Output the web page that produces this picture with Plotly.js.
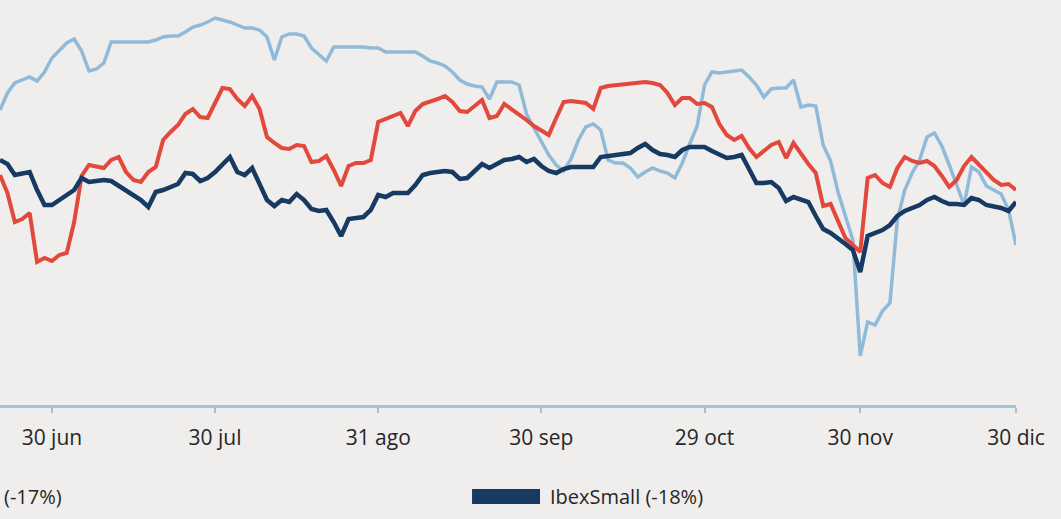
<!DOCTYPE html>
<html>
<head>
<meta charset="utf-8">
<script src="https://cdn.plot.ly/plotly-3.0.1.min.js"></script>
<style>
  html, body { margin: 0; padding: 0; background: #efeeec; }
  #chart { width: 1061px; height: 519px; }
</style>
</head>
<body>
<div id="chart"></div>
<script>
// Trading-day index (index 0 = first session shown)
const tickDays   = [7, 29, 51, 73, 95, 116, 137];
const tickLabels = ["30 jun", "30 jul", "31 ago", "30 sep", "29 oct", "30 nov", "30 dic"];

// Rebased values (dark series = 100 at first session)
const ibexSmall = [100,99,96.25,96.5,97,92.5,88.75,88.75,90,91,92.5,95.5,94.5,94.75,95,94.75,93.5,92.5,91.25,90,
  88.25,92,92.5,93.25,94,96.75,96.5,94.75,95.5,97,98.75,100.75,97,96.25,98,94.25,90,88.5,90,89.5,
  91.5,90,87.75,87.25,87.5,84.5,81,85.25,85.5,85.75,87.5,91.25,90.75,91.75,91.75,91.75,93.75,96.25,96.75,97,
  97.25,97,95.25,95.5,97.25,99,98,99,100,100.25,100.75,99.5,100.25,98.5,97.25,96.75,97.75,98.25,98.25,98.25,
  98.25,100.75,101,101.25,101.5,101.75,103,104,102.5,101.5,101.25,100.75,102.5,103.25,103.25,103.25,102.25,101.25,100.5,100.75,
  101.25,97.75,94.25,94.25,94.5,93,89.75,90.75,90,89.5,86,82.75,81.75,80.5,79,77.5,72,81,81.75,82.5,
  83.75,86,87.25,88,88.75,90,90.75,89.75,89,89,88.75,90.5,90,88.75,88.5,88,87.25,89.5];

const ibex35 = [96.25,91.75,84.5,85.25,86.75,74.5,75.5,74.75,76.25,76.75,84.5,96,98.75,98.5,98,100,100.75,97,95,94.5,
  97,98.25,105,107,108.75,111.5,112.75,110.75,110.5,114.25,118,117.75,115.25,113.5,116,112.75,105.75,104.25,103,102.75,
  103.75,103.5,99.5,99.75,101,97.5,93.5,98.5,99.25,99.25,100,109.5,110.25,111,111.75,108.5,112.25,114,114.5,115.25,
  116,114.5,112.25,112,113.5,115,110.5,111,114,112.75,111.5,110,108.5,107.25,106.25,110.5,114.5,114.75,114.5,114.25,
  112.75,118,118.5,118.75,119,119.25,119.5,119.5,119.25,118.75,116.75,113.75,115.5,115.5,114,114.25,113.25,109,106.25,105,
  106,103,100.75,102.25,103.75,104.5,100.5,104.25,101.5,99,96.75,88.5,89,84.5,80.5,78.75,77,95.5,96.25,94.25,
  93.25,98,100.75,99.75,99.25,99.75,98.5,96,93.25,95,98.5,100.75,98.75,96.75,95,93.75,94,92.5];

const company = [112.5,116.75,119.25,120,120.75,119.75,122,125.5,127.25,129.25,130.25,127.25,122.25,122.75,124.25,129.5,129.5,129.5,129.5,129.5,
  129.5,130,130.75,131,131,132,133.25,133.75,134.5,135.5,135,134.5,133.75,133,133,132.5,130.75,125,130.75,131.5,
  131.5,131,128,126.25,124.75,128.25,128.25,128.25,128.25,128.25,128,128,127,127,127,127,127,126,124.75,124.25,
  123.5,122,120,119,118.5,118.25,115.25,119.5,119.5,119.5,118.75,111.5,108,104.75,101.25,98.75,97.25,100.25,105,108.25,
  109,107.5,100,99.25,99.25,98,95.75,97,98,97.25,96.75,95.5,99.25,104,108.5,118.75,122,121.75,122,122.25,
  122.5,120.75,118.75,115.75,117.75,118,118,120,113.25,113.75,113.5,103.75,99.75,92,85.75,80,51,59.5,58.75,62.25,
  64.25,85,92.5,96.75,100,105.75,106.75,103.5,98.75,93.5,88.75,98.25,97,93.5,92.5,91.5,87.5,78.75];

const days = company.map((_, i) => i);

const NAVY = "#173a63", RED = "#e2483b", LBLUE = "#8fbad9";

const traces = [
  { x: days, y: company,   type: "scatter", mode: "lines", name: "company",
    line: { color: LBLUE, width: 3.5 }, hoverinfo: "skip" },
  { x: days, y: ibex35,    type: "scatter", mode: "lines", name: "(-17%)",
    line: { color: RED, width: 4 }, hoverinfo: "skip" },
  { x: days, y: ibexSmall, type: "scatter", mode: "lines", name: "IbexSmall (-18%)",
    line: { color: NAVY, width: 4.5 }, hoverinfo: "skip" }
];

const FONT = "Open Sans, Noto Sans, sans-serif";

const layout = {
  width: 1061, height: 519,
  margin: { l: 0, r: 45, t: 0, b: 114, pad: 0 },
  paper_bgcolor: "#efeeec",
  plot_bgcolor: "#efeeec",
  showlegend: false,
  font: { family: FONT, color: "#262626", size: 20 },
  xaxis: {
    range: [0, 137],
    showgrid: false, zeroline: false,
    showline: true, linecolor: "#9fc4e0", linewidth: 3,
    ticks: "outside", ticklen: 5, tickwidth: 2, tickcolor: "#b3bcc4",
    tickvals: tickDays, ticktext: tickLabels,
    tickfont: { family: FONT, size: 21, color: "#262626" },
    ticklabelstandoff: 7,
    fixedrange: true
  },
  yaxis: {
    range: [38.75, 140],
    visible: false, showgrid: false, zeroline: false,
    fixedrange: true
  },
  shapes: [
    { type: "rect", xref: "paper", yref: "paper",
      x0: 0.4646, x1: 0.5315, y0: -0.2444, y1: -0.2074,
      fillcolor: NAVY, line: { width: 0 } }
  ],
  annotations: [
    { xref: "paper", yref: "paper", x: 0.002, y: -0.227, xanchor: "left", yanchor: "middle",
      text: "(-17%)", showarrow: false, font: { family: FONT, size: 20, color: "#262626" } },
    { xref: "paper", yref: "paper", x: 0.539, y: -0.227, xanchor: "left", yanchor: "middle",
      text: "IbexSmall (-18%)", showarrow: false, font: { family: FONT, size: 20, color: "#262626" } }
  ]
};

Plotly.newPlot("chart", traces, layout, { displayModeBar: false, staticPlot: true });
</script>
</body>
</html>
